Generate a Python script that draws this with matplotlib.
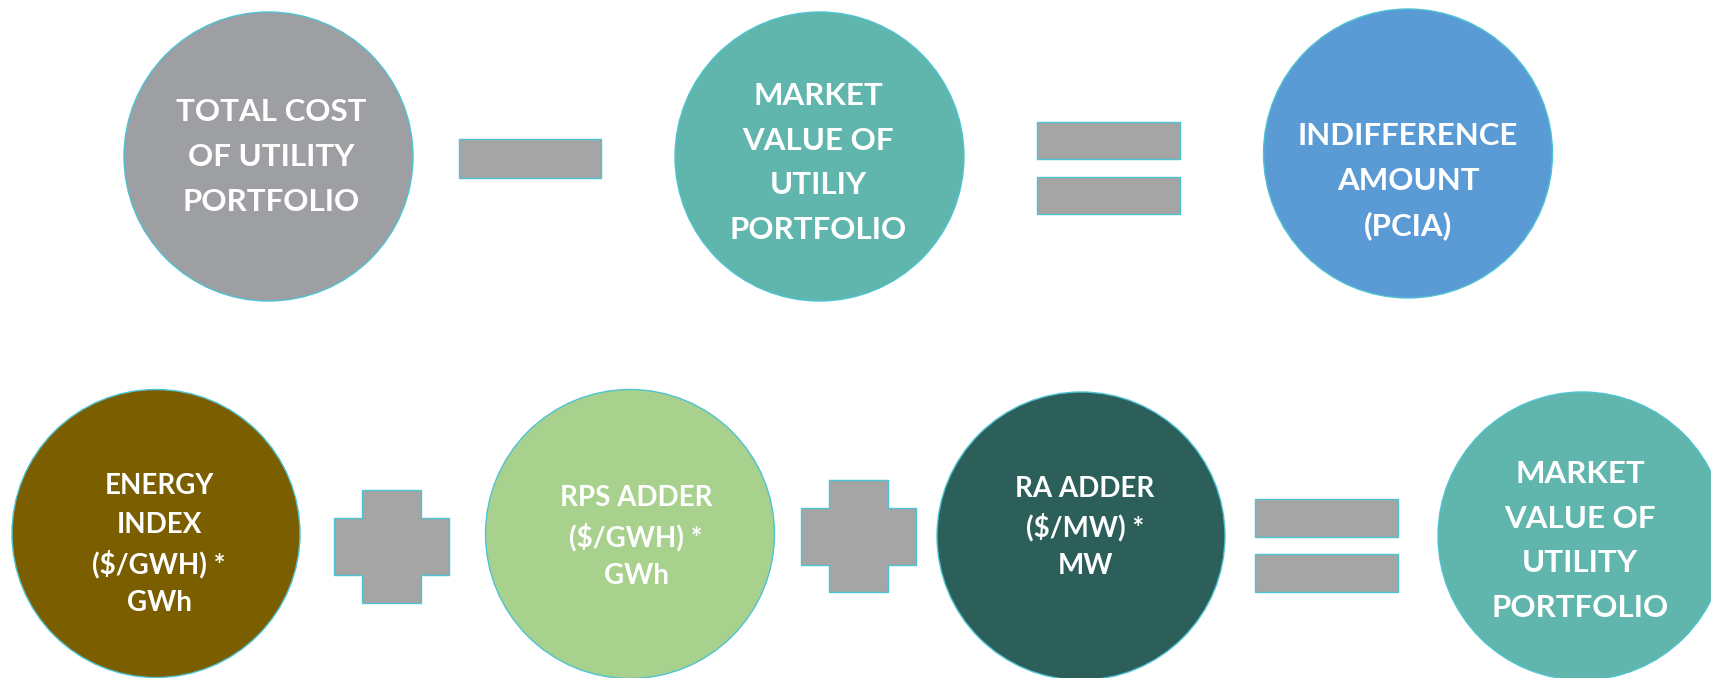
import matplotlib
matplotlib.use("Agg")
import matplotlib.pyplot as plt
from matplotlib.patches import Circle, Rectangle, Polygon

# ---- content ----
labels = [
    ["TOTAL COST", "OF UTILITY", "PORTFOLIO"],
    ["MARKET", "VALUE OF", "UTILIY", "PORTFOLIO"],
    ["INDIFFERENCE", "AMOUNT", "(PCIA)"],
    ["ENERGY", "INDEX", "($/GWH) *", "GWh"],
    ["RPS ADDER", "($/GWH) *", "GWh"],
    ["RA ADDER", "($/MW) *", "MW"],
    ["MARKET", "VALUE OF", "UTILITY", "PORTFOLIO"],
]
circle_colors = ["#9D9FA2", "#60B6AD", "#5B9BD5", "#7B5E00", "#A9D18E", "#2C5F5A", "#60B6AD"]

# ---- layout (pixels, y downward) ----
circle_cx = [268.5, 819.5, 1408, 156, 630, 1081, 1582]
circle_cy = [156.5, 156.5, 153.5, 533.5, 534, 536, 536]
circle_r = [144.5, 144.5, 144.5, 144, 144.5, 144, 144]
text_x = [271, 818, 1408, 159, 636, 1085, 1580]
text_baselines = [
    [121, 166, 211],
    [105, 150, 194, 239],
    [145, 190, 235],
    [494, 533, 573, 611],
    [506, 546, 584],
    [497, 536, 574],
    [483, 528, 572, 617],
]
text_sizes = [22.5, 22.5, 22.5, 20, 20, 20, 22.5]

# operator bars: (x0, x1, y0, y1)
bars = [
    (459, 601, 139, 178),      # minus
    (1037, 1180, 122, 159),    # equals top
    (1037, 1180, 177, 214),
    (1255, 1398, 499, 537),    # equals bottom
    (1255, 1398, 554, 592),
]
# plus signs: horizontal bar (x0, x1, y0, y1) and vertical bar (x0, x1, y0, y1)
plus_h = [(334, 449, 518, 575), (801, 916, 508, 565)]
plus_v = [(362, 421, 490, 603), (829, 888, 480, 592)]
bar_color = "#A5A5A5"
edge_color = "#4EC3D2"

W, H = 1711, 678
fig = plt.figure(figsize=(W / 100, H / 100), dpi=100)
ax = fig.add_axes([0, 0, 1, 1])
ax.set_xlim(0, W)
ax.set_ylim(H, 0)
ax.set_aspect("auto")
ax.axis("off")

for cx, cy, r, c in zip(circle_cx, circle_cy, circle_r, circle_colors):
    ax.add_patch(Circle((cx, cy), r, facecolor=c, edgecolor=edge_color, linewidth=1.0))

for (x0, x1, y0, y1) in bars:
    ax.add_patch(Rectangle((x0, y0), x1 - x0, y1 - y0, facecolor=bar_color,
                           edgecolor=edge_color, linewidth=1.0))

for (hx0, hx1, hy0, hy1), (vx0, vx1, vy0, vy1) in zip(plus_h, plus_v):
    pts = [(vx0, vy0), (vx1, vy0), (vx1, hy0), (hx1, hy0), (hx1, hy1), (vx1, hy1),
           (vx1, vy1), (vx0, vy1), (vx0, hy1), (hx0, hy1), (hx0, hy0), (vx0, hy0)]
    ax.add_patch(Polygon(pts, closed=True, facecolor=bar_color,
                         edgecolor=edge_color, linewidth=1.0))

for lines, tx, bls, fs in zip(labels, text_x, text_baselines, text_sizes):
    for line, b in zip(lines, bls):
        ax.text(tx, b, line, ha="center", va="baseline", color="white",
                fontsize=fs, fontweight="bold", family=["Lato", "DejaVu Sans"])

fig.savefig("out.png", dpi=100)
